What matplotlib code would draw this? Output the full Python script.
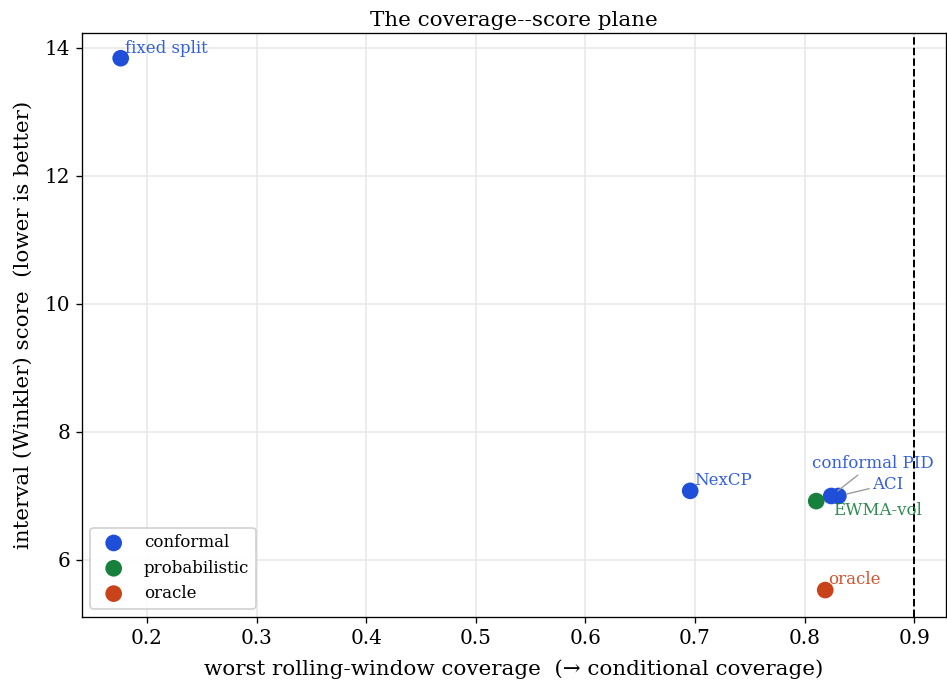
import matplotlib
matplotlib.use("Agg")
import matplotlib.pyplot as plt

# Method results: worst rolling-window coverage vs. mean interval score
methods = ["fixed split", "NexCP", "conformal PID", "ACI", "EWMA-vol", "oracle"]
families = ["conformal", "conformal", "conformal", "conformal", "probabilistic", "oracle"]
worst_coverage = [0.176, 0.6956, 0.8243, 0.8308, 0.8106, 0.8188]
winkler_score = [13.84, 7.08, 7.00, 7.00, 6.92, 5.53]

family_order = ["conformal", "probabilistic", "oracle"]
family_colors = {"conformal": "#1f4fd8", "probabilistic": "#17803d", "oracle": "#c8431a"}

target_coverage = 0.9

# label placement (offset in points) and whether a leader line is drawn
label_offsets = {
    "fixed split": (2.5, 1.0, False),
    "NexCP": (2.5, 1.0, False),
    "conformal PID": (-11.5, 14.5, True),
    "ACI": (20.5, 2.0, True),
    "EWMA-vol": (10.0, -10.5, False),
    "oracle": (1.5, 1.0, False),
}

plt.rcParams["font.family"] = "DejaVu Serif"

DPI = 120
fig = plt.figure(figsize=(947 / DPI, 686 / DPI), dpi=DPI)
ax = fig.add_axes([82 / 947, 1 - 617 / 686, (946 - 82) / 947, (617 - 33) / 686])

for fam in family_order:
    xs = [x for x, f in zip(worst_coverage, families) if f == fam]
    ys = [y for y, f in zip(winkler_score, families) if f == fam]
    ax.scatter(xs, ys, s=100, color=family_colors[fam], label=fam, zorder=3,
               edgecolors="none")

for name, fam, x, y in zip(methods, families, worst_coverage, winkler_score):
    dx, dy, leader = label_offsets[name]
    kw = {}
    if leader:
        kw["arrowprops"] = dict(arrowstyle="-", color="#999999", lw=0.8,
                                shrinkA=0, shrinkB=5)
    ax.annotate(name, (x, y), xytext=(dx, dy), textcoords="offset points",
                color=family_colors[fam], fontsize=10, alpha=0.9,
                ha="left", va="bottom", zorder=4, **kw)

ax.axvline(target_coverage, color="black", ls="--", lw=1.2, zorder=2)

ax.set_xlim(0.1407, 0.929)
ax.set_ylim(5.109, 14.234)
ax.set_xticks([0.2, 0.3, 0.4, 0.5, 0.6, 0.7, 0.8, 0.9])
ax.set_yticks([6, 8, 10, 12, 14])
ax.grid(True, color="#e6e6e6", lw=0.9)
ax.set_axisbelow(True)
ax.tick_params(labelsize=12)

ax.set_xlabel("worst rolling-window coverage  (\u2192 conditional coverage)",
              fontsize=12.8, labelpad=7)
ax.set_ylabel("interval (Winkler) score  (lower is better)", fontsize=12.8,
              labelpad=7)
ax.set_title("The coverage--score plane", fontsize=12.8, pad=4)

ax.legend(loc="lower left", fontsize=10, framealpha=0.9)

fig.savefig("out.png", dpi=DPI)
